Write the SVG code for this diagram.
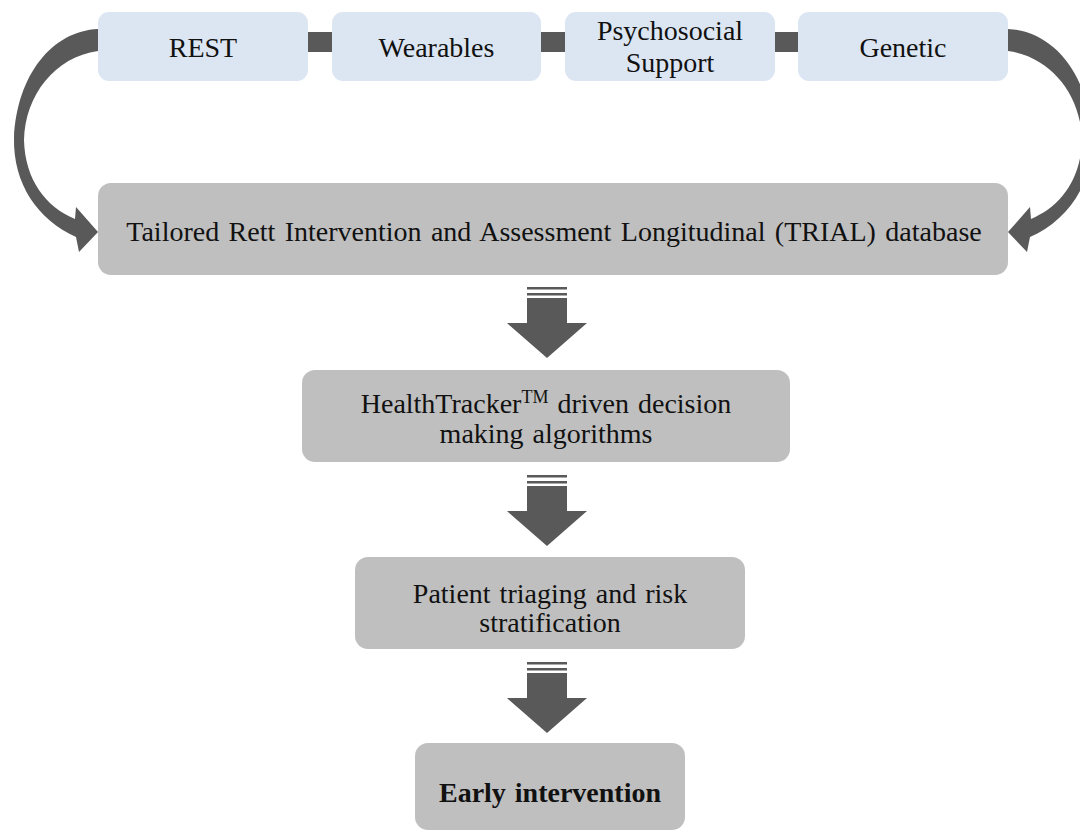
<svg xmlns="http://www.w3.org/2000/svg" width="1080" height="832" viewBox="0 0 1080 832">
<defs>
<style>
.src{fill:#dce6f2}
.box{fill:#bfbfbf}
.dk{fill:#595959}
text{font-family:"Liberation Serif","Times New Roman",serif;font-size:28px;fill:#111111;text-anchor:middle}
.b{font-weight:bold}
</style>
<g id="downArrow">
<rect x="-20" y="0" width="40" height="2.5" class="dk"/>
<rect x="-20" y="6" width="40" height="2.5" class="dk"/>
<rect x="-20" y="11" width="40" height="25" class="dk"/>
<polygon points="-40,36 40,36 0,71" class="dk"/>
</g>
<path id="curve" d="M98,29 C52,31 17,75 14,138 C13,184 38,220 76,237 L79,252 L98,232 L76,207 L75,219 C46,207 25,180 24,140 C25,95 55,57 98,51 Z"/>
</defs>
<rect width="1080" height="832" fill="#ffffff"/>
<g id="connectors">
<rect x="308" y="32" width="24" height="20" class="dk"/>
<rect x="541" y="32" width="24" height="20" class="dk"/>
<rect x="775" y="32" width="23" height="20" class="dk"/>
<use href="#curve" class="dk"/>
<use href="#curve" class="dk" transform="translate(1106,0) scale(-1,1)"/>
<use href="#downArrow" x="547" y="287"/>
<use href="#downArrow" x="547" y="475"/>
<use href="#downArrow" x="547" y="662"/>
</g>
<g id="rest">
<rect x="98" y="12" width="210" height="69" rx="11" class="src"/>
<text x="203" y="57">REST</text>
</g>
<g id="wearables">
<rect x="332" y="12" width="209" height="69" rx="11" class="src"/>
<text x="436.5" y="57">Wearables</text>
</g>
<g id="psychosocial">
<rect x="565" y="12" width="210" height="69" rx="11" class="src"/>
<text x="670" y="40">Psychosocial</text>
<text x="670" y="72">Support</text>
</g>
<g id="genetic">
<rect x="798" y="12" width="210" height="69" rx="11" class="src"/>
<text x="903" y="57">Genetic</text>
</g>
<g id="trial">
<rect x="98" y="183" width="910" height="92" rx="13" class="box"/>
<text x="554" y="241" word-spacing="2.4">Tailored Rett Intervention and Assessment Longitudinal (TRIAL) database</text>
</g>
<g id="healthtracker">
<rect x="302" y="370" width="488" height="92" rx="13" class="box"/>
<text x="546" y="413" word-spacing="2">HealthTracker<tspan font-size="18" dy="-10">TM</tspan><tspan dy="10">  driven decision</tspan></text>
<text x="546" y="443" word-spacing="2">making algorithms</text>
</g>
<g id="triage">
<rect x="355" y="557" width="390" height="92" rx="13" class="box"/>
<text x="550" y="603" word-spacing="2">Patient triaging and risk</text>
<text x="550" y="632">stratification</text>
</g>
<g id="early">
<rect x="415" y="743" width="270" height="87" rx="13" class="box"/>
<text x="550" y="802" class="b" word-spacing="2">Early intervention</text>
</g>
</svg>
